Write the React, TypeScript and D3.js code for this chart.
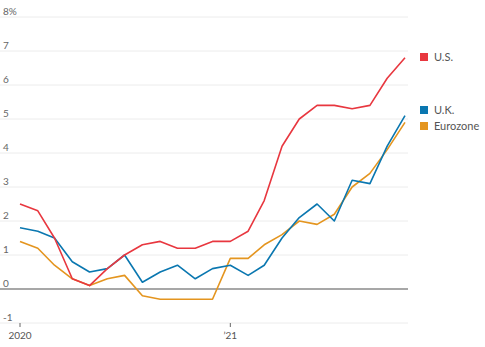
import React from "react";
import * as d3 from "d3";

const months: string[] = [
  "2020-01","2020-02","2020-03","2020-04","2020-05","2020-06","2020-07","2020-08","2020-09","2020-10","2020-11","2020-12",
  "2021-01","2021-02","2021-03","2021-04","2021-05","2021-06","2021-07","2021-08","2021-09","2021-10","2021-11",
];
const usValues = [2.5, 2.3, 1.5, 0.3, 0.1, 0.6, 1.0, 1.3, 1.4, 1.2, 1.2, 1.4, 1.4, 1.7, 2.6, 4.2, 5.0, 5.4, 5.4, 5.3, 5.4, 6.2, 6.8];
const ukValues = [1.8, 1.7, 1.5, 0.8, 0.5, 0.6, 1.0, 0.2, 0.5, 0.7, 0.3, 0.6, 0.7, 0.4, 0.7, 1.5, 2.1, 2.5, 2.0, 3.2, 3.1, 4.2, 5.1];
const ezValues = [1.4, 1.2, 0.7, 0.3, 0.1, 0.3, 0.4, -0.2, -0.3, -0.3, -0.3, -0.3, 0.9, 0.9, 1.3, 1.6, 2.0, 1.9, 2.2, 3.0, 3.4, 4.1, 4.9];
const yTicks = [-1, 0, 1, 2, 3, 4, 5, 6, 7, 8];
const xTickDates = ["2020-01", "2021-01"];
const xTickLabels = ["2020", "\u201921"];

const seriesNames = ["U.S.", "U.K.", "Eurozone"];
const seriesColors = ["#e8373f", "#0a77b0", "#e4951f"];

export default function App() {
  const W = 485, H = 347;
  const parse = d3.timeParse("%Y-%m");
  const dates = months.map((m) => parse(m) as Date);
  const x = d3.scaleTime().domain([dates[0], dates[dates.length - 1]]).range([20, 405]);
  const y = d3.scaleLinear().domain([-1, 8]).range([323, 17]);
  const line = d3.line<number>().x((_, i) => x(dates[i])).y((v) => y(v));
  const allSeries = [usValues, ukValues, ezValues];
  const legendY = [57, 110, 126];
  const font = "Lato, 'Noto Sans', sans-serif";

  return (
    <svg width={W} height={H} style={{ position: "absolute", left: 0, top: 0, background: "#fff" }}>
      {yTicks.map((t) => (
        <g key={t}>
          <line x1={0} x2={408} y1={y(t)} y2={y(t)} stroke={t === 0 ? "#8a8a8a" : "#ececec"} strokeWidth={t === 0 ? 1.5 : 1} />
          <text x={3} y={y(t) - 2} fontSize={10} fill="#666" fontFamily={font}>
            {t === 8 ? "8%" : t}
          </text>
        </g>
      ))}
      {xTickDates.map((d, i) => {
        const xd = x(parse(d) as Date);
        return (
          <g key={d}>
            <line x1={xd} x2={xd} y1={323} y2={327} stroke="#666" strokeWidth={1} />
            <text x={xd} y={339} fontSize={10} fill="#555" textAnchor="middle" fontFamily={font}>
              {xTickLabels[i]}
            </text>
          </g>
        );
      })}
      {allSeries.slice().reverse().map((s, ri) => {
        const i = allSeries.length - 1 - ri;
        return (
          <path key={i} d={line(s) || ""} fill="none" stroke={seriesColors[i]} strokeWidth={1.6} strokeLinejoin="round" />
        );
      })}
      {seriesNames.map((n, i) => (
        <g key={n}>
          <rect x={420} y={legendY[i] - 4} width={8} height={8} fill={seriesColors[i]} />
          <text x={434} y={legendY[i] + 4} fontSize={11} fill="#555" fontFamily={font}>
            {n}
          </text>
        </g>
      ))}
    </svg>
  );
}
